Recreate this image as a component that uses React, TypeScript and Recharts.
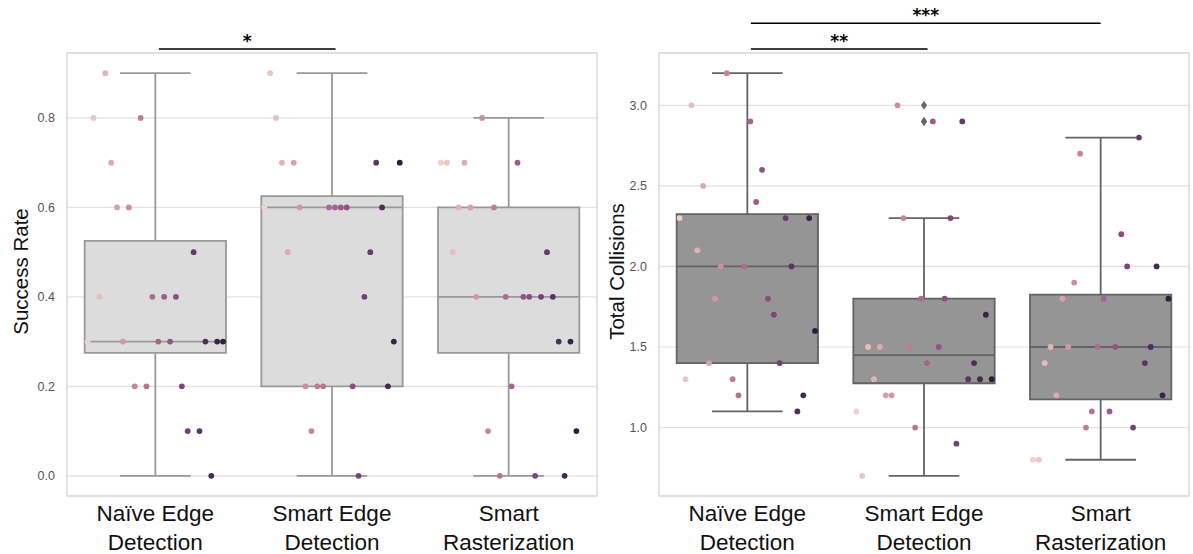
import React from "react";
import {
  CartesianGrid,
  ComposedChart,
  ReferenceArea,
  ReferenceLine,
  Scatter,
  XAxis,
  YAxis,
} from "recharts";

// category labels (two lines each)
const categories = [
  ["Naïve Edge", "Detection"],
  ["Smart Edge", "Detection"],
  ["Smart", "Rasterization"],
];

// one value per participant (24 participants, hue order)
const successNaive = [0.3, 0.8, 0.4, 0.9, 0.7, 0.6, 0.3, 0.6, 0.2, 0.8, 0.2, 0.4, 0.3, 0.4, 0.3, 0.4, 0.2, 0.1, 0.5, 0.1, 0.3, 0.0, 0.3, 0.3];
const successSmartEdge = [0.6, 0.9, 0.8, 0.7, 0.5, 0.7, 0.6, 0.2, 0.1, 0.2, 0.2, 0.6, 0.6, 0.6, 0.6, 0.2, 0.0, 0.4, 0.5, 0.7, 0.6, 0.2, 0.3, 0.7];
const successRaster = [0.7, 0.7, 0.5, 0.6, 0.7, 0.6, 0.4, 0.8, 0.1, 0.6, 0.0, 0.4, 0.2, 0.7, 0.4, 0.4, 0.0, 0.4, 0.5, 0.4, 0.3, 0.0, 0.3, 0.1];

const collisionsNaive = [2.3, 1.3, 3.0, 2.1, 2.5, 1.4, 1.8, 2.0, 3.2, 1.3, 1.2, 2.0, 2.9, 2.4, 2.6, 1.8, 1.7, 1.4, 2.3, 2.0, 1.1, 1.2, 2.3, 1.6];
const collisionsSmartEdge = [1.1, 0.7, 1.5, 1.3, 1.5, 1.2, 1.2, 3.0, 2.3, 1.5, 1.0, 1.8, 1.4, 2.9, 1.5, 1.8, 2.3, 0.9, 2.9, 1.3, 1.4, 1.3, 1.7, 1.3];
const collisionsRaster = [0.8, 0.8, 1.4, 1.5, 1.2, 1.8, 1.5, 1.9, 2.7, 1.0, 1.1, 1.5, 1.8, 1.1, 1.5, 2.2, 2.0, 1.0, 2.8, 1.4, 1.5, 2.0, 1.2, 1.8];

const successTicks = [0, 0.2, 0.4, 0.6, 0.8];
const collisionTicks = [1.0, 1.5, 2.0, 2.5, 3.0];

// significance brackets: [from category, to category, stars]
const successSig: [number, number, string][] = [[0, 1, "*"]];
const collisionSig: [number, number, string][] = [
  [0, 1, "**"],
  [0, 2, "***"],
];

const FONT = "'Liberation Sans', Arial, Helvetica, sans-serif";

// seaborn default cubehelix_palette
function cubehelixPalette(n: number) {
  const start = 0, rot = 0.4, gamma = 1, hue = 0.8, light = 0.85, dark = 0.15;
  const chan = (p0: number, p1: number, x: number) => {
    const xg = Math.pow(x, gamma);
    const a = (hue * xg * (1 - xg)) / 2;
    const phi = 2 * Math.PI * (start / 3 + rot * x);
    return Math.min(1, Math.max(0, xg + a * (p0 * Math.cos(phi) + p1 * Math.sin(phi))));
  };
  return Array.from({ length: n }, (_, i) => {
    const x = light + ((dark - light) * i) / (n - 1);
    const r = chan(-0.14861, 1.78277, x);
    const g = chan(-0.29227, -0.90649, x);
    const b = chan(1.97294, 0, x);
    return `rgb(${Math.round(r * 255)},${Math.round(g * 255)},${Math.round(b * 255)})`;
  });
}

const palette = cubehelixPalette(successNaive.length);

function quantile(sorted: number[], q: number) {
  const pos = (sorted.length - 1) * q;
  const lo = Math.floor(pos);
  const hi = Math.ceil(pos);
  return sorted[lo] + (sorted[hi] - sorted[lo]) * (pos - lo);
}

function boxStats(values: number[]) {
  const s = [...values].sort((a, b) => a - b);
  const q1 = quantile(s, 0.25);
  const med = quantile(s, 0.5);
  const q3 = quantile(s, 0.75);
  const iqr = q3 - q1;
  const eps = 1e-9;
  const inside = s.filter((v) => v >= q1 - 1.5 * iqr - eps && v <= q3 + 1.5 * iqr + eps);
  const fliers = s.filter((v) => !inside.includes(v));
  return { q1, med, q3, lo: inside[0], hi: inside[inside.length - 1], fliers };
}

function stripPoints(groups: number[][]) {
  return groups.flatMap((vals, i) =>
    vals.map((v, k) => ({ x: i - 0.4 + (0.8 * (k + 0.5)) / vals.length, y: v, fill: palette[k] }))
  );
}

function paddedDomain(groups: number[][]) {
  const all = groups.flat();
  const min = Math.min(...all);
  const max = Math.max(...all);
  const pad = (max - min) * 0.05;
  return [min - pad, max + pad];
}

function CategoryTick({ x, y, payload }: any) {
  const lines = categories[Math.round(payload.value)] ?? [];
  return (
    <text x={x} y={y} textAnchor="middle" fontSize={22.5} fill="#111" fontFamily={FONT}>
      {lines.map((l, i) => (
        <tspan key={i} x={x} dy={i === 0 ? 25 : 29}>
          {l}
        </tspan>
      ))}
    </text>
  );
}

function Panel({
  groups,
  ticks,
  title,
  titleX,
  boxFill,
  boxStroke,
  sig,
  width,
  yAxisWidth,
  left,
}: {
  groups: number[][];
  ticks: number[];
  title: string;
  titleX: number;
  boxFill: string;
  boxStroke: string;
  sig: [number, number, string][];
  width: number;
  yAxisWidth: number;
  left: number;
}) {
  const domain = paddedDomain(groups);
  const span = domain[1] - domain[0];
  const points = stripPoints(groups);
  const stats = groups.map(boxStats);
  const fliers = stats.flatMap((s, i) => s.fliers.map((v) => ({ x: i, y: v })));

  return (
    <div style={{ position: "absolute", left, top: 0 }}>
      <ComposedChart width={width} height={554} margin={{ top: 53, right: width - yAxisWidth - 530, bottom: 0, left: 0 }}>
        <CartesianGrid vertical={false} stroke="#e2e2e2" strokeWidth={1.2} />
        <XAxis
          type="number"
          dataKey="x"
          domain={[-0.5, 2.5]}
          ticks={[0, 1, 2]}
          interval={0}
          allowDataOverflow
          tickLine={false}
          axisLine={false}
          tickSize={0}
          tickMargin={0}
          height={58}
          tick={<CategoryTick />}
        />
        <YAxis
          type="number"
          dataKey="y"
          domain={domain}
          ticks={ticks}
          allowDataOverflow
          width={yAxisWidth}
          tickLine={false}
          axisLine={false}
          tickSize={0}
          tickMargin={12}
          tickFormatter={(v: number) => v.toFixed(1)}
          tick={{ fontSize: 12.5, fill: "#555", fontFamily: FONT }}
          label={(p: any) => {
            const vb = p.viewBox || {};
            const cx = (vb.x ?? 0) + titleX;
            const cy = (vb.y ?? 53) + (vb.height ?? 443) / 2 - 3;
            return (
              <text
                x={cx}
                y={cy}
                transform={`rotate(-90 ${cx} ${cy})`}
                textAnchor="middle"
                dominantBaseline="central"
                fontSize={20.5}
                fill="#111"
                fontFamily={FONT}
              >
                {title}
              </text>
            );
          }}
        />
        <ReferenceArea
          x1={-0.5}
          x2={2.5}
          y1={domain[0]}
          y2={domain[1]}
          fill="none"
          stroke="#dadada"
          strokeWidth={1.5}
          ifOverflow="visible"
        />
        {stats.map((s, i) => (
          <ReferenceArea
            key={`box${i}`}
            x1={i - 0.4}
            x2={i + 0.4}
            y1={s.q1}
            y2={s.q3}
            fill={boxFill}
            fillOpacity={1}
            stroke={boxStroke}
            strokeWidth={1.8}
            ifOverflow="visible"
          />
        ))}
        {stats.map((s, i) => (
          <ReferenceLine key={`med${i}`} segment={[{ x: i - 0.4, y: s.med }, { x: i + 0.4, y: s.med }]} stroke={boxStroke} strokeWidth={1.8} ifOverflow="visible" />
        ))}
        {stats.map((s, i) => (
          <ReferenceLine key={`wl${i}`} segment={[{ x: i, y: s.q1 }, { x: i, y: s.lo }]} stroke={boxStroke} strokeWidth={1.8} ifOverflow="visible" />
        ))}
        {stats.map((s, i) => (
          <ReferenceLine key={`wh${i}`} segment={[{ x: i, y: s.q3 }, { x: i, y: s.hi }]} stroke={boxStroke} strokeWidth={1.8} ifOverflow="visible" />
        ))}
        {stats.map((s, i) => (
          <ReferenceLine key={`cl${i}`} segment={[{ x: i - 0.2, y: s.lo }, { x: i + 0.2, y: s.lo }]} stroke={boxStroke} strokeWidth={1.8} ifOverflow="visible" />
        ))}
        {stats.map((s, i) => (
          <ReferenceLine key={`ch${i}`} segment={[{ x: i - 0.2, y: s.hi }, { x: i + 0.2, y: s.hi }]} stroke={boxStroke} strokeWidth={1.8} ifOverflow="visible" />
        ))}
        {sig.map(([a, b, stars], j) => {
          const y = domain[1] + span * (0.009 + 0.058 * j);
          return (
            <ReferenceLine
              key={`sig${j}`}
              segment={[{ x: a + 0.02, y }, { x: b + (b === 2 ? 0 : 0.02), y }]}
              stroke="#000"
              strokeWidth={1.6}
              ifOverflow="visible"
              label={{ value: stars, position: "top", offset: 2, fill: "#000", fontSize: 17, fontWeight: "bold", fontFamily: "'DejaVu Sans', sans-serif" }}
            />
          );
        })}
        <Scatter
          data={fliers}
          dataKey="y"
          isAnimationActive={false}
          shape={(p: any) => (
            <path d={`M${p.cx},${p.cy - 4.5}L${p.cx + 3},${p.cy}L${p.cx},${p.cy + 4.5}L${p.cx - 3},${p.cy}Z`} fill="#666" />
          )}
        />
        <Scatter
          data={points}
          dataKey="y"
          isAnimationActive={false}
          shape={(p: any) => <circle cx={p.cx} cy={p.cy} r={2.9} fill={p.payload.fill} />}
        />
      </ComposedChart>
    </div>
  );
}

export default function App() {
  return (
    <div style={{ position: "absolute", left: 0, top: 0, width: 1193, height: 554, background: "#fff" }}>
      <Panel
        groups={[successNaive, successSmartEdge, successRaster]}
        ticks={successTicks}
        title="Success Rate"
        titleX={20}
        boxFill="#dcdcdc"
        boxStroke="#999999"
        sig={successSig}
        width={600}
        yAxisWidth={67}
        left={0}
      />
      <Panel
        groups={[collisionsNaive, collisionsSmartEdge, collisionsRaster]}
        ticks={collisionTicks}
        title="Total Collisions"
        titleX={16}
        boxFill="#959595"
        boxStroke="#636363"
        sig={collisionSig}
        width={593}
        yAxisWidth={59}
        left={600}
      />
    </div>
  );
}
